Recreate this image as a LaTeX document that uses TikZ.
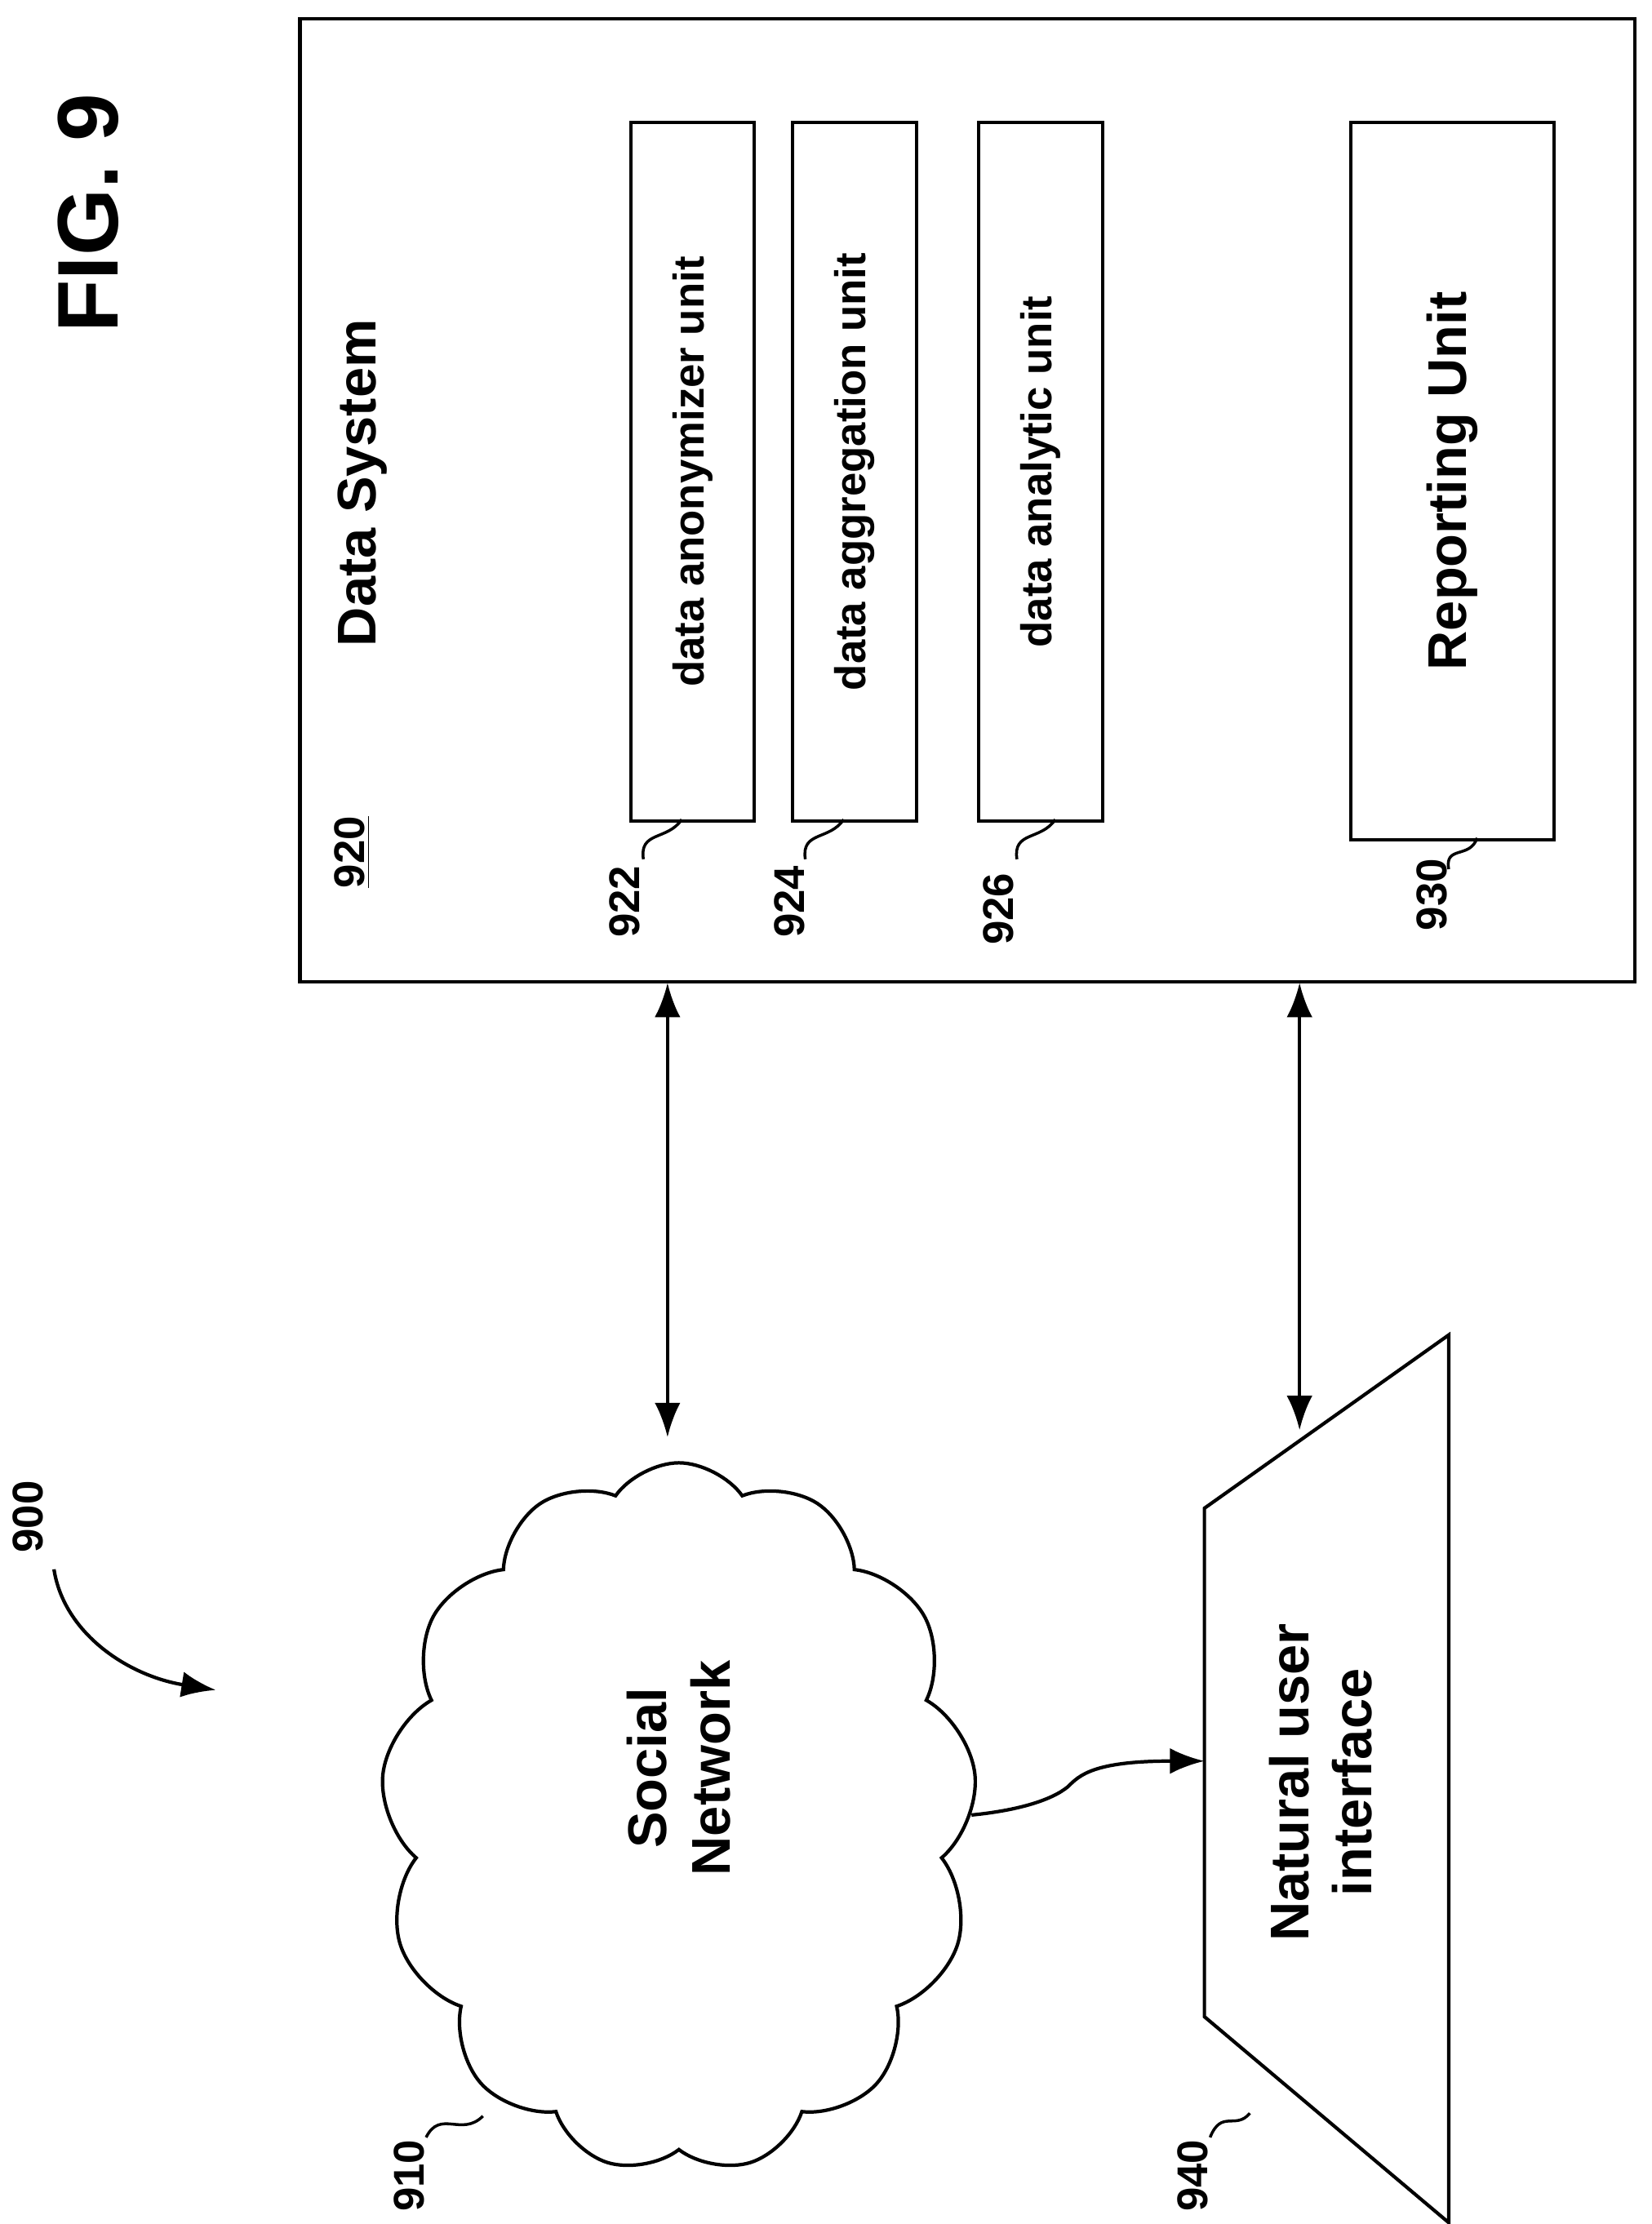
\documentclass[tikz,border=0pt]{standalone}
\usepackage{fontspec}
\setmainfont{Liberation Sans}
\usetikzlibrary{shapes.symbols,arrows.meta,decorations.pathmorphing}
\begin{document}
\begin{tikzpicture}[x=0.0174cm,y=-0.0174cm,
 box/.style={draw,line width=1.2pt},
 lbl/.style={rotate=90,font=\fontsize{15}{18}\selectfont\bfseries},
 num/.style={rotate=90,font=\fontsize{15}{18}\selectfont\bfseries},
 conn/.style={line width=1.2pt,{Latex[length=12pt,width=9pt]}-{Latex[length=12pt,width=9pt]}},
 lead/.style={line width=1pt}]
\useasboundingbox (0,0) rectangle (1163,1566);
\node[rotate=90,font=\fontsize{30}{34}\selectfont\bfseries] (fig) at (62,150) {FIG. 9};
\node[box,minimum width=940*0.0174cm,minimum height=678*0.0174cm,anchor=north west,inner sep=0] (ds) at (210,12) {};
\node[lbl,font=\fontsize{19}{22}\selectfont\bfseries] (dst) at (255,340) {Data System};
\node[rotate=90,font=\fontsize{15}{18}\selectfont\bfseries] (n920) at (248,600) {\underline{920}};
\node[box,minimum width=87*0.0174cm,minimum height=492*0.0174cm,anchor=north west,inner sep=0] (b922) at (443,85) {};
\node[lbl] at (b922) {data anonymizer unit};
\node[box,minimum width=87*0.0174cm,minimum height=492*0.0174cm,anchor=north west,inner sep=0] (b924) at (557,85) {};
\node[lbl] at (b924) {data aggregation unit};
\node[box,minimum width=87*0.0174cm,minimum height=492*0.0174cm,anchor=north west,inner sep=0] (b926) at (688,85) {};
\node[lbl] at (b926) {data analytic unit};
\node[box,minimum width=143*0.0174cm,minimum height=505*0.0174cm,anchor=north west,inner sep=0] (b930) at (950,85) {};
\node[lbl,font=\fontsize{19}{22}\selectfont\bfseries] at (b930) {Reporting Unit};
\node[num] (l922) at (440,635) {922};
\node[num] (l924) at (556,635) {924};
\node[num] (l926) at (703,640) {926};
\node[num] (l930) at (1008,630) {930};
\draw[lead] (453,605) .. controls (450,585) and (470,592) .. (480,577);
\draw[lead] (567,605) .. controls (564,585) and (584,592) .. (594,577);
\draw[lead] (716,605) .. controls (713,585) and (733,592) .. (743,577);
\draw[lead] (1020,612) .. controls (1017,595) and (1035,605) .. (1040,590);
\node[cloud,draw,line width=1.2pt,cloud puffs=13,cloud puff arc=110,aspect=0.8,minimum width=420*0.0174cm,minimum height=500*0.0174cm] (sn) at (478,1280) {};
\node[lbl,font=\fontsize{19}{22}\selectfont\bfseries,align=center] at (478,1245) {Social\\Network};
\draw[line width=1.2pt] (848,1062) -- (1020,940) -- (1020,1565) -- (848,1420) -- cycle;
\coordinate (nuiL) at (848,1240);
\node[lbl,font=\fontsize{19}{22}\selectfont\bfseries,align=center] (nui) at (930,1255) {Natural user\\interface};
\coordinate (dsA) at (470,692);
\coordinate (snA) at (470,1012);
\coordinate (dsB) at (915,692);
\coordinate (nuiT) at (915,1007);
\draw[conn] (dsA) -- (snA);
\draw[conn] (dsB) -- (nuiT);
\coordinate (snR) at (684,1278);
\draw[line width=1.2pt,-{Latex[length=12pt,width=9pt]}] (snR) .. controls (715,1275) and (740,1268) .. (752,1258) .. controls (760,1250) and (770,1240) .. (nuiL);
\node[num] (l900) at (20,1068) {900};
\draw[line width=1.2pt,-{Latex[length=12pt,width=9pt]}] (38,1105) .. controls (45,1150) and (90,1180) .. (152,1190);
\node[num] (l910) at (288,1532) {910};
\draw[lead] (300,1505) .. controls (310,1485) and (325,1505) .. (340,1490);
\node[num] (l940) at (840,1532) {940};
\draw[lead] (852,1505) .. controls (860,1485) and (870,1500) .. (880,1488);
\end{tikzpicture}
\end{document}
